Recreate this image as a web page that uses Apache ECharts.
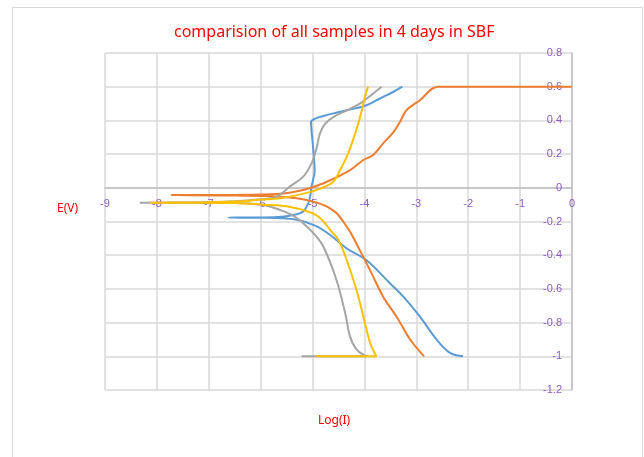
<!DOCTYPE html>
<html>
<head>
<meta charset="utf-8">
<script src="https://cdn.jsdelivr.net/npm/echarts@6/dist/echarts.min.js"></script>
<style>
  html, body { margin: 0; padding: 0; background: #fff; }
  #main { width: 644px; height: 457px; }
</style>
</head>
<body>
<div id="main"></div>
<script>
// log(I) vs E(V)
var blueData = [
  [-2.10, -1], [-2.35, -0.98], [-2.61, -0.90], [-2.93, -0.765], [-3.25, -0.646],
  [-3.51, -0.566], [-3.96, -0.43], [-4.34, -0.36], [-4.66, -0.28], [-4.95, -0.225],
  [-5.30, -0.19], [-5.63, -0.18], [-6.0, -0.178], [-6.62, -0.177], [-6.0, -0.176],
  [-5.6, -0.172], [-5.35, -0.16], [-5.18, -0.14], [-5.08, -0.09], [-5.04, -0.04],
  [-5.02, 0.007], [-4.96, 0.10], [-4.99, 0.24], [-5.02, 0.34], [-5.03, 0.39],
  [-4.95, 0.41], [-4.79, 0.426], [-4.55, 0.445], [-4.34, 0.46], [-3.96, 0.49],
  [-3.70, 0.53], [-3.44, 0.57], [-3.27, 0.60]
];
var orangeData = [
  [-2.85, -1], [-3.12, -0.90], [-3.38, -0.765], [-3.64, -0.646], [-3.89, -0.49],
  [-4.09, -0.37], [-4.28, -0.26], [-4.41, -0.20], [-4.54, -0.15], [-4.73, -0.11],
  [-4.95, -0.085], [-5.3, -0.062], [-5.8, -0.05], [-6.5, -0.045], [-7.72, -0.043],
  [-6.5, -0.042], [-5.69, -0.037], [-5.18, -0.013], [-4.79, 0.027], [-4.3, 0.10],
  [-4.02, 0.165], [-3.83, 0.195], [-3.64, 0.264], [-3.44, 0.33], [-3.3, 0.40],
  [-3.19, 0.46], [-2.93, 0.52], [-2.58, 0.60], [0, 0.60]
];
var grayData = [
  [-5.21, -1], [-3.96, -1], [-4.15, -0.96], [-4.28, -0.88], [-4.37, -0.745],
  [-4.54, -0.546], [-4.79, -0.35], [-4.95, -0.28], [-5.11, -0.23], [-5.30, -0.18],
  [-5.55, -0.14], [-5.78, -0.115], [-5.98, -0.10], [-6.5, -0.09], [-7.5, -0.088],
  [-8.33, -0.088], [-7.5, -0.087], [-6.5, -0.08], [-6.0, -0.068], [-5.69, -0.053],
  [-5.44, 0.007], [-5.18, 0.066], [-5.02, 0.145], [-4.92, 0.24], [-4.86, 0.32],
  [-4.76, 0.38], [-4.60, 0.42], [-4.34, 0.46], [-4.09, 0.50], [-3.83, 0.56],
  [-3.67, 0.60]
];
var yellowData = [
  [-4.93, -1], [-3.77, -1], [-3.89, -0.92], [-4.02, -0.765], [-4.15, -0.61],
  [-4.34, -0.43], [-4.50, -0.31], [-4.66, -0.25], [-4.85, -0.18], [-5.05, -0.145],
  [-5.5, -0.11], [-5.95, -0.10], [-6.5, -0.09], [-7.3, -0.088], [-8.13, -0.088],
  [-7.3, -0.087], [-6.5, -0.082], [-6.0, -0.07], [-5.63, -0.062], [-5.11, -0.03],
  [-4.85, -0.005], [-4.60, 0.036], [-4.47, 0.106], [-4.34, 0.185], [-4.22, 0.284],
  [-4.12, 0.38], [-4.05, 0.46], [-3.99, 0.54], [-3.93, 0.60]
];

var myChart = echarts.init(document.getElementById('main'));
var labelColor = '#8d5bc1';
var red = '#ff0000';

function line(name, data, color) {
  return {
    name: name,
    type: 'line',
    data: data,
    showSymbol: false,
    smooth: 0.35,
    lineStyle: { color: color, width: 2 },
    itemStyle: { color: color }
  };
}

myChart.setOption({
  animation: false,
  title: [
    { text: 'comparision of all samples in 4 days in SBF', left: 169, top: 19,
      textStyle: { color: red, fontSize: 16, fontWeight: 'normal', fontFamily: 'Noto Sans' } },
    { text: 'E(V)', left: 52, top: 198,
      textStyle: { color: red, fontSize: 12, fontWeight: 'normal', fontFamily: 'Noto Sans' } },
    { text: 'Log(I)', left: 313, top: 410,
      textStyle: { color: red, fontSize: 12, fontWeight: 'normal', fontFamily: 'Noto Sans' } }
  ],
  graphic: [{
    type: 'rect', shape: { x: 12.5, y: 7.5, width: 630, height: 470 },
    style: { fill: 'none', stroke: '#d9d9d9', lineWidth: 1 }, silent: true
  }],
  grid: { left: 105, right: 72, top: 53, bottom: 67 },
  xAxis: {
    type: 'value', min: -9, max: 0, interval: 1,
    // x axis drawn through E = 0 (1.2 of 2.0 units above the bottom of a 337px plot)
    offset: -202,
    axisLine: { onZero: false, lineStyle: { color: '#bfbfbf', width: 1.5 } },
    axisTick: { show: false },
    axisLabel: { color: labelColor, fontSize: 11, margin: 10 },
    splitLine: { lineStyle: { color: '#d9d9d9', width: 1.5 } }
  },
  yAxis: {
    type: 'value', min: -1.2, max: 0.8, interval: 0.2, position: 'right',
    axisLine: { show: true, onZero: false, lineStyle: { color: '#bfbfbf', width: 1.5 } },
    axisTick: { show: false },
    axisLabel: { color: labelColor, fontSize: 11, margin: 10, inside: true,
      formatter: function (v) { return String(Math.round(v * 10) / 10); } },
    splitLine: { lineStyle: { color: '#d9d9d9', width: 1.5 } }
  },
  series: [
    line('blue', blueData, '#5b9bd5'),
    line('orange', orangeData, '#ed7d31'),
    line('gray', grayData, '#a5a5a5'),
    line('yellow', yellowData, '#ffc000')
  ]
});
</script>
</body>
</html>
